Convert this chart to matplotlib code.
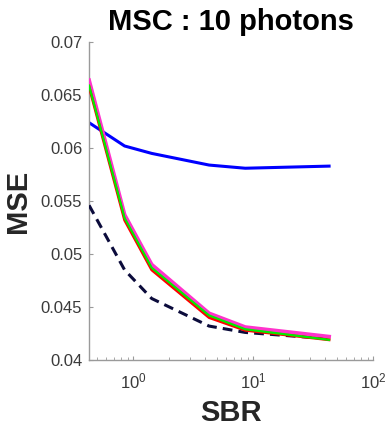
import matplotlib
matplotlib.use("Agg")
import matplotlib.pyplot as plt
from matplotlib.ticker import LogLocator, FixedLocator, NullFormatter

plt.rcParams['font.family'] = ['Liberation Sans', 'DejaVu Sans']
plt.rcParams['mathtext.default'] = 'regular'

sbr = [0.43, 0.85, 1.43, 4.3, 8.6, 43]
mse_blue = [0.0624, 0.0602, 0.0595, 0.0584, 0.0581, 0.0583]
mse_dashed = [0.0546, 0.0485, 0.0458, 0.0432, 0.0426, 0.0420]
mse_magenta = [0.0664, 0.0537, 0.0490, 0.0444, 0.0431, 0.0422]
mse_red = [0.0658, 0.0532, 0.0485, 0.0440, 0.0428, 0.0419]
mse_green = [0.0659, 0.0534, 0.0487, 0.0442, 0.0429, 0.0419]

yticks = [0.04, 0.045, 0.05, 0.055, 0.06, 0.065, 0.07]
ylabels = ['0.04', '0.045', '0.05', '0.055', '0.06', '0.065', '0.07']

fig = plt.figure(figsize=(3.89, 4.26), dpi=100)
ax = fig.add_axes([0.229, 0.155, 0.730, 0.746])

ax.plot(sbr, mse_blue, color='#0000ff', lw=2.2, zorder=2)
ax.plot(sbr, mse_dashed, color='#0b0b3b', lw=2.2, ls=(0, (3.2, 2.0)), zorder=3)
ax.plot(sbr, mse_magenta, color='#ff33cc', lw=2.8, zorder=4)
ax.plot(sbr, mse_red, color='#ff0000', lw=2.0, zorder=5)
ax.plot(sbr, mse_green, color='#00ee00', lw=1.6, zorder=6)

ax.set_xscale('log')
ax.set_xlim(0.43, 100)
ax.set_ylim(0.04, 0.07)
ax.yaxis.set_major_locator(FixedLocator(yticks))
ax.set_yticklabels(ylabels)
ax.xaxis.set_major_locator(LogLocator(base=10, numticks=10))
ax.xaxis.set_minor_locator(LogLocator(base=10, subs=range(2, 10), numticks=10))
ax.xaxis.set_minor_formatter(NullFormatter())

for s in ['top', 'right']:
    ax.spines[s].set_visible(False)
for s in ['left', 'bottom']:
    ax.spines[s].set_color('#9a9a9a')
    ax.spines[s].set_linewidth(1.0)

ax.tick_params(axis='both', which='major', direction='in', length=3, color='#9a9a9a',
               labelsize=12, labelcolor='#3a3a3a')
ax.tick_params(axis='x', which='minor', direction='in', length=2, color='#9a9a9a')
ax.tick_params(axis='y', which='major', pad=5)
ax.tick_params(axis='x', which='major', pad=8)

ax.set_title('MSC : 10 photons', fontsize=21, fontweight='bold', color='black', pad=9)
ax.set_xlabel('SBR', fontsize=21, fontweight='bold', color='#262626', labelpad=6)
ax.set_ylabel('MSE', fontsize=21, fontweight='bold', color='#262626', labelpad=6)

fig.savefig('out.png', dpi=100)
